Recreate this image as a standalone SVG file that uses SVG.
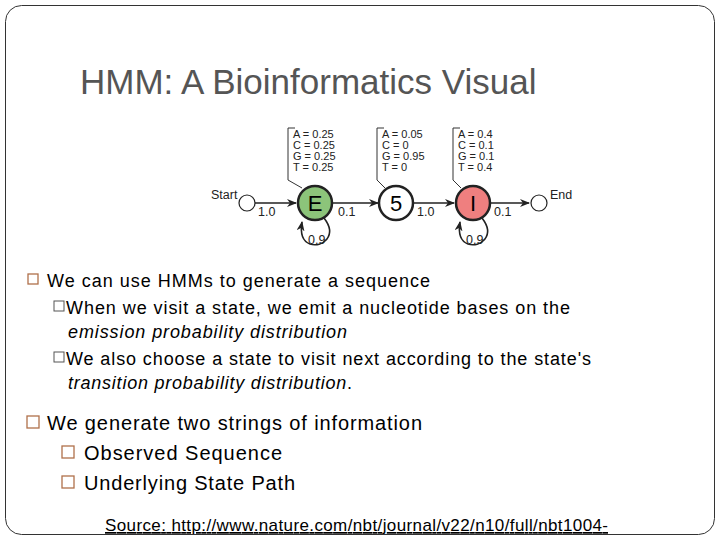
<svg xmlns="http://www.w3.org/2000/svg" width="720" height="540" viewBox="0 0 720 540">
<style>
.t{font-family:"Liberation Sans",Arial,sans-serif;fill:#000}
.s{font-family:"Liberation Sans",Arial,sans-serif;fill:#222;font-size:12.5px}
.e{font-family:"Liberation Sans",Arial,sans-serif;fill:#222;font-size:11px}
.b1{fill:none;stroke:#b0704a;stroke-width:1.3}
.b2{fill:none;stroke:#555;stroke-width:1}
.ln{fill:none;stroke:#222;stroke-width:1.6}
.br{fill:none;stroke:#333;stroke-width:1}
.st{stroke:#222;stroke-width:2.5}
</style>
<defs><marker id="ah" markerWidth="10" markerHeight="8" refX="9" refY="4" orient="auto" markerUnits="userSpaceOnUse"><path d="M0,0 L10,4 L0,8 L3,4 Z" fill="#222"/></marker></defs>
<rect x="0" y="0" width="720" height="540" fill="#fff"/>
<rect x="5.5" y="5.5" width="709" height="529" rx="16" fill="none" stroke="#333" stroke-width="1"/>
<text x="80" y="94" class="t" font-size="35" style="fill:#555">HMM: A Bioinformatics Visual</text>
<g id="connectors">
<line x1="255" y1="203" x2="296" y2="203" class="ln" marker-end="url(#ah)"/>
<line x1="332" y1="203" x2="378" y2="203" class="ln" marker-end="url(#ah)"/>
<line x1="414" y1="203" x2="454" y2="203" class="ln" marker-end="url(#ah)"/>
<line x1="490" y1="203" x2="529" y2="203" class="ln" marker-end="url(#ah)"/>
<path d="M324,218 C338,236 322,248 310,244 C302,241 300,234 302,222" class="ln" marker-end="url(#ah)"/>
<path d="M482,218 C496,236 480,248 468,244 C460,241 458,234 460,222" class="ln" marker-end="url(#ah)"/>
<text x="258" y="216" class="s">1.0</text>
<text x="338" y="216" class="s">0.1</text>
<text x="417" y="216" class="s">1.0</text>
<text x="494" y="216" class="s">0.1</text>
<text x="308" y="244" class="s">0.9</text>
<text x="466" y="244" class="s">0.9</text>
</g>
<g id="start"><circle cx="247" cy="203" r="8" fill="#fff" stroke="#222" stroke-width="1.2"/><text x="211" y="199" class="s">Start</text></g>
<g id="E"><path d="M295,128 H288 V180 L302,188" class="br"/>
<text x="293" y="138" class="e">A = 0.25</text><text x="293" y="149" class="e">C = 0.25</text><text x="293" y="160" class="e">G = 0.25</text><text x="293" y="171" class="e">T = 0.25</text>
<circle cx="315" cy="203" r="17" fill="#8cc47a" class="st"/><text x="315" y="211" class="t" font-size="22" text-anchor="middle">E</text></g>
<g id="five"><path d="M384,128 H377 V180 L385,188" class="br"/>
<text x="382" y="138" class="e">A = 0.05</text><text x="382" y="149" class="e">C = 0</text><text x="382" y="160" class="e">G = 0.95</text><text x="382" y="171" class="e">T = 0</text>
<circle cx="396" cy="203" r="17" fill="#fff" class="st"/><text x="396" y="211" class="t" font-size="22" text-anchor="middle">5</text></g>
<g id="I"><path d="M460,128 H453 V180 L461,188" class="br"/>
<text x="458" y="138" class="e">A = 0.4</text><text x="458" y="149" class="e">C = 0.1</text><text x="458" y="160" class="e">G = 0.1</text><text x="458" y="171" class="e">T = 0.4</text>
<circle cx="473" cy="203" r="17" fill="#ef7f7f" class="st"/><text x="473" y="211" class="t" font-size="22" text-anchor="middle">I</text></g>
<g id="end"><circle cx="539" cy="203" r="8" fill="#fff" stroke="#222" stroke-width="1.2"/><text x="550" y="199" class="s">End</text></g>
<g id="text">
<rect x="28" y="274" width="10" height="10" class="b1"/>
<text x="47" y="287" class="t" font-size="18" textLength="383">We can use HMMs to generate a sequence</text>
<rect x="54" y="301" width="10" height="10" class="b2"/>
<text x="66" y="314" class="t" font-size="18" textLength="504">When we visit a state, we emit a nucleotide bases on the</text>
<text x="68" y="338" class="t" font-size="18" font-style="italic" textLength="279">emission probability distribution</text>
<rect x="54" y="352" width="10" height="10" class="b2"/>
<text x="66" y="365" class="t" font-size="18" textLength="525">We also choose a state to visit next according to the state's</text>
<text x="68" y="389" class="t" font-size="18" textLength="284"><tspan font-style="italic">transition probability distribution</tspan>.</text>
<rect x="27" y="416" width="12" height="12" class="b1"/>
<text x="47" y="430" class="t" font-size="20" textLength="375">We generate two strings of information</text>
<rect x="62" y="446" width="12" height="12" class="b1"/>
<text x="84" y="460" class="t" font-size="20" textLength="198">Observed Sequence</text>
<rect x="62" y="476" width="12" height="12" class="b1"/>
<text x="84" y="490" class="t" font-size="20" textLength="211">Underlying State Path</text>
<text x="105" y="531" class="t" font-size="17" text-decoration="underline" textLength="503">Source: http://www.nature.com/nbt/journal/v22/n10/full/nbt1004-</text>
</g>
</svg>
